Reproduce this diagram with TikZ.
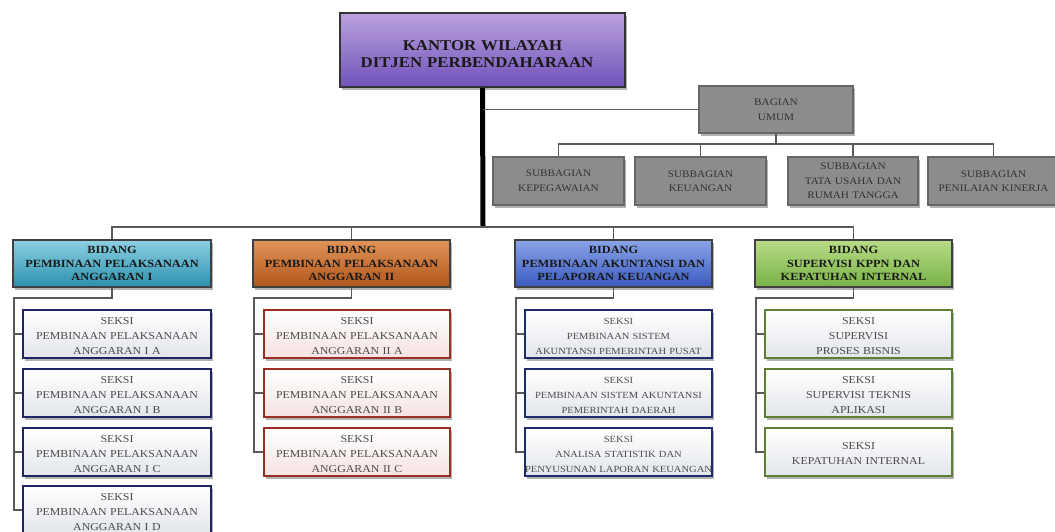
\documentclass[tikz,border=0pt]{standalone}
\usepackage{fontspec}
\setmainfont[FakeStretch=1.12]{Liberation Serif}
\usetikzlibrary{shadows}
\definecolor{kanTop}{HTML}{BBA2DE}
\definecolor{kanBot}{HTML}{7052BA}
\definecolor{tealTop}{HTML}{8CD0E2}
\definecolor{tealBot}{HTML}{2C90AE}
\definecolor{oraTop}{HTML}{E29458}
\definecolor{oraBot}{HTML}{B0561C}
\definecolor{bluTop}{HTML}{8AA4E8}
\definecolor{bluBot}{HTML}{3A5AC0}
\definecolor{grnTop}{HTML}{B8DC86}
\definecolor{grnBot}{HTML}{78B246}
\definecolor{bNavy}{HTML}{1F2462}
\definecolor{bRed}{HTML}{9A2E24}
\definecolor{bBlue}{HTML}{1E2B6B}
\definecolor{bGreen}{HTML}{5E7F33}
\definecolor{lgBot}{HTML}{E2E5EA}
\definecolor{pkBot}{HTML}{F6E2E2}
\definecolor{subGray}{HTML}{8C8C8C}
\newcommand\seksiline{\rule{0pt}{11pt}SEKSI}
\tikzset{
  shad/.style={drop shadow={shadow xshift=2pt, shadow yshift=-2.5pt, opacity=0.3, fill=black}},
  base/.style={draw, rectangle, align=center, inner sep=0pt, shad},
  kanwil/.style={base, line width=2pt, draw=black!80, top color=kanTop, bottom color=kanBot,
    font=\bfseries\fontsize{15}{17}\selectfont, text=black!90, text width=285pt, minimum height=74pt},
  subbox/.style={base, line width=1.2pt, draw=black!60, fill=subGray, text=black!80,
    font=\fontsize{10}{14.5}\selectfont, text width=131pt, minimum height=48pt},
  hdr/.style={base, line width=1.6pt, draw=black!75, text=black!90,
    font=\bfseries\fontsize{11}{13.5}\selectfont, text width=198pt, minimum height=47pt},
  sek/.style={base, line width=2.6pt, top color=white, bottom color=lgBot, text=black!70,
    font=\fontsize{10.6}{15}\selectfont, text width=188pt, minimum height=48pt},
  sekS/.style={sek, font=\fontsize{9.4}{15}\selectfont},
  conn/.style={draw=black!65, line width=1.4pt},
  trunk/.style={draw=black, line width=5pt},
}
\begin{document}
\begin{tikzpicture}[x=1pt,y=-1pt]
\useasboundingbox (0,0) rectangle (1055,531);
\fill[white] (0,0) rectangle (1055,531);

% top
\node[kanwil] (k) at (482.5,50) {\rule{0pt}{18pt}KANTOR WILAYAH\hspace*{19pt}\\DITJEN PERBENDAHARAAN\hspace*{11pt}};
\node[subbox, text width=154pt, minimum height=47pt] (bu) at (776,109.5) {BAGIAN\\UMUM};
\node[subbox] (sb1) at (558.5,181) {SUBBAGIAN\\KEPEGAWAIAN};
\node[subbox] (sb2) at (700.5,181) {SUBBAGIAN\\KEUANGAN};
\node[subbox, text width=130pt] (sb3) at (853,181) {SUBBAGIAN\\TATA USAHA DAN\\RUMAH TANGGA};
\node[subbox] (sb4) at (993.5,181) {SUBBAGIAN\\PENILAIAN KINERJA};

% headers
\node[hdr, top color=tealTop, bottom color=tealBot] (h1) at (112,263.5) {BIDANG\\PEMBINAAN PELAKSANAAN\\ANGGARAN I};
\node[hdr, top color=oraTop, bottom color=oraBot, text width=197pt] (h2) at (351.5,263.5) {BIDANG\\PEMBINAAN PELAKSANAAN\\ANGGARAN II};
\node[hdr, top color=bluTop, bottom color=bluBot, text width=197pt] (h3) at (613.5,263.5) {BIDANG\\PEMBINAAN AKUNTANSI DAN\\PELAPORAN KEUANGAN};
\node[hdr, top color=grnTop, bottom color=grnBot, text width=197pt] (h4) at (853.5,263.5) {BIDANG\\SUPERVISI KPPN DAN\\KEPATUHAN INTERNAL};

% seksi column 1
\node[sek, draw=bNavy] (s11) at (117,334) {\seksiline\\PEMBINAAN PELAKSANAAN\\ANGGARAN I A};
\node[sek, draw=bNavy] (s12) at (117,393) {\seksiline\\PEMBINAAN PELAKSANAAN\\ANGGARAN I B};
\node[sek, draw=bNavy] (s13) at (117,452) {\seksiline\\PEMBINAAN PELAKSANAAN\\ANGGARAN I C};
\node[sek, draw=bNavy] (s14) at (117,510) {\seksiline\\PEMBINAAN PELAKSANAAN\\ANGGARAN I D};
% column 2
\node[sek, draw=bRed, bottom color=pkBot, text width=186pt] (s21) at (357,334) {\seksiline\\PEMBINAAN PELAKSANAAN\\ANGGARAN II A};
\node[sek, draw=bRed, bottom color=pkBot, text width=186pt] (s22) at (357,393) {\seksiline\\PEMBINAAN PELAKSANAAN\\ANGGARAN II B};
\node[sek, draw=bRed, bottom color=pkBot, text width=186pt] (s23) at (357,452) {\seksiline\\PEMBINAAN PELAKSANAAN\\ANGGARAN II C};
% column 3
\node[sekS, draw=bBlue, text width=187pt] (s31) at (618.5,334) {\seksiline\\PEMBINAAN SISTEM\\\mbox{AKUNTANSI PEMERINTAH PUSAT}};
\node[sekS, draw=bBlue, text width=187pt] (s32) at (618.5,393) {\seksiline\\\mbox{PEMBINAAN SISTEM AKUNTANSI}\\PEMERINTAH DAERAH};
\node[sekS, draw=bBlue, text width=187pt] (s33) at (618.5,452) {\seksiline\\ANALISA STATISTIK DAN\\\mbox{PENYUSUNAN LAPORAN KEUANGAN}};
% column 4
\node[sek, draw=bGreen, text width=187pt] (s41) at (858.5,334) {\seksiline\\SUPERVISI\\PROSES BISNIS};
\node[sek, draw=bGreen, text width=187pt] (s42) at (858.5,393) {\seksiline\\SUPERVISI TEKNIS\\APLIKASI};
\node[sek, draw=bGreen, text width=187pt] (s43) at (858.5,452) {\seksiline\\KEPATUHAN INTERNAL};

% coordinates
\coordinate (tj) at (483,227);
\coordinate (ub) at (776,144);
\coordinate (c1) at (14,298);
\coordinate (c2) at (254,298);
\coordinate (c3) at (516,298);
\coordinate (c4) at (756,298);

% connectors
\draw[trunk] (k.south) -- (tj);
\draw[conn] (k.south |- bu.west) -- (bu.west);
\draw[conn] (bu.south) -- (ub);
\draw[conn] (sb1.north) |- (ub) -| (sb4.north);
\draw[conn] (sb2.north) -- (sb2.north |- ub);
\draw[conn] (sb3.north) -- (sb3.north |- ub);
\draw[conn] (h1.north) |- (tj) -| (h4.north);
\draw[conn] (h2.north) -- (h2.north |- tj);
\draw[conn] (h3.north) -- (h3.north |- tj);

\draw[conn] (h1.south) |- (c1) |- (s14.west);
\draw[conn] (c1 |- s11.west) -- (s11.west);
\draw[conn] (c1 |- s12.west) -- (s12.west);
\draw[conn] (c1 |- s13.west) -- (s13.west);

\draw[conn] (h2.south) |- (c2) |- (s23.west);
\draw[conn] (c2 |- s21.west) -- (s21.west);
\draw[conn] (c2 |- s22.west) -- (s22.west);

\draw[conn] (h3.south) |- (c3) |- (s33.west);
\draw[conn] (c3 |- s31.west) -- (s31.west);
\draw[conn] (c3 |- s32.west) -- (s32.west);

\draw[conn] (h4.south) |- (c4) |- (s43.west);
\draw[conn] (c4 |- s41.west) -- (s41.west);
\draw[conn] (c4 |- s42.west) -- (s42.west);
\end{tikzpicture}
\end{document}
